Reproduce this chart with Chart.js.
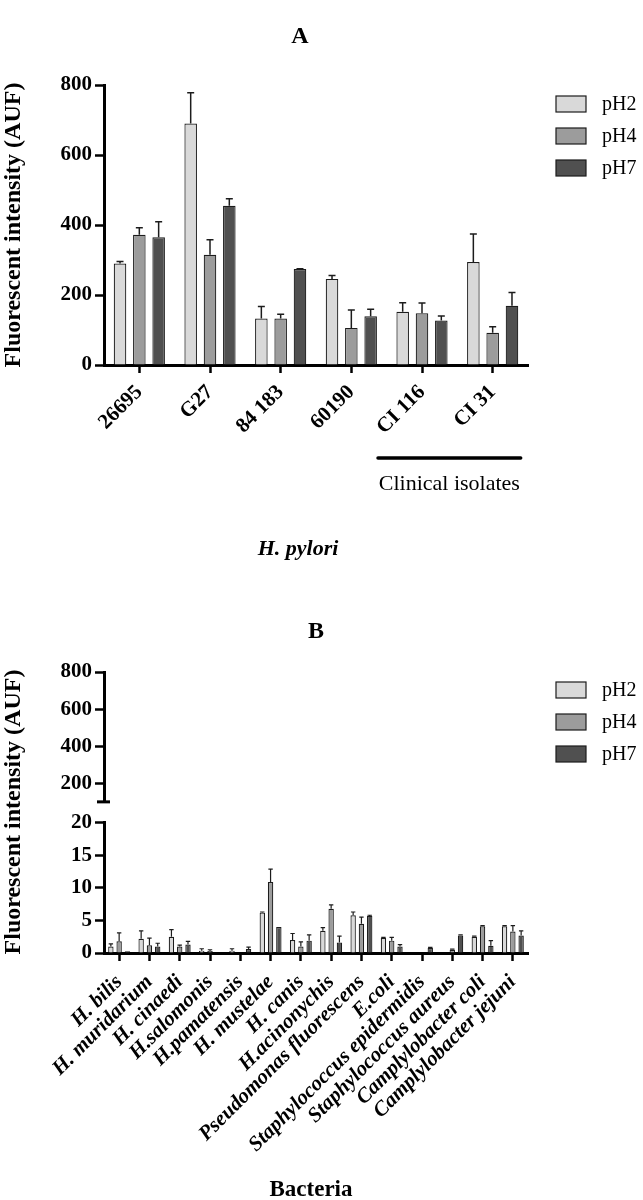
<!DOCTYPE html>
<html>
<head>
<style>
  body { margin: 0; background: #ffffff; }
  .panel { position: relative; width: 643px; height: 600px; }
</style>
<script src="https://cdn.jsdelivr.net/npm/chart.js@4.4.0/dist/chart.umd.min.js"></script>
</head>
<body>
<div class="panel"><canvas id="chartA" width="643" height="600"></canvas></div>
<div class="panel"><canvas id="chartB" width="643" height="600"></canvas></div>

<script type="text/javascript">

    // ---- panel A : H. pylori strains ----
    var strainsA = ['26695', 'G27', '84 183', '60190', 'CI 116', 'CI 31'];
    var pH2A = [290, 690, 133, 246, 152, 294];
    var pH4A = [372, 315, 133, 106, 148, 92];
    var pH7A = [365, 455, 274, 139, 127, 169];
    var err2A = [6, 88, 34, 10, 26, 80];
    var err4A = [20, 43, 12, 51, 29, 17];
    var err7A = [44, 20, 1, 20, 13, 38];
    var ticksA = [0, 200, 400, 600, 800];

    // ---- panel B : other bacteria ----
    var bacteriaB = ['H. bilis', 'H. muridarium', 'H. cinaedi', 'H.salomonis', 'H.pamatensis',
                     'H. mustelae', 'H. canis', 'H.acinonychis', 'Pseudomonas fluorescens', 'E.coli',
                     'Staphylococcus epidermidis', 'Staphylococcus aureus', 'Camplylobacter coli',
                     'Camplylobacter jejuni'];
    var pH2B = [1.0, 2.2, 2.5, 0.35, 0.35, 6.2, 2.0, 3.4, 5.8, 2.3, 0.05, 0, 2.5, 4.1];
    var pH4B = [1.8, 1.2, 1.0, 0.3, 0.05, 10.9, 1.0, 6.8, 4.5, 1.9, 0, 0.5, 4.1, 3.3];
    var pH7B = [0.25, 1.0, 1.3, 0.1, 0.6, 4.0, 1.9, 1.6, 5.7, 1.0, 0.75, 2.7, 1.1, 2.7];
    var err2B = [0.4, 1.2, 1.1, 0.3, 0.3, 0.1, 1.0, 0.5, 0.5, 0.1, 0, 0, 0.1, 0.1];
    var err4B = [1.3, 1.1, 0.2, 0.2, 0, 2.0, 0.7, 0.6, 1.0, 0.5, 0, 0.1, 0.1, 0.9];
    var err7B = [0, 0.5, 0.5, 0, 0.3, 0, 0.9, 1.0, 0.1, 0.3, 0.1, 0.1, 0.8, 0.7];
    var ticksBTop = [200, 400, 600, 800];
    var ticksBLow = [0, 5, 10, 15, 20];

    var phLabels = ['pH2', 'pH4', 'pH7'];
    var phColors = ['#d9d9d9', '#9c9c9c', '#505050'];
    var serif = "'Liberation Serif', 'Times New Roman', serif";

    function makeSets(vals, errs) {
        return vals.map(function (v, i) {
            return {
                label: phLabels[i],
                data: v,
                errors: errs[i],
                backgroundColor: phColors[i],
                borderColor: '#1c1c1c',
                borderWidth: 1.2,
                categoryPercentage: 0.82,
                barPercentage: 0.65,
                yAxisID: 'y'
            };
        });
    }

    // error bars, upper half only
    var errorBars = {
        id: 'errorBars',
        afterDatasetsDraw: function (chart, args, opts) {
            var ctx = chart.ctx;
            ctx.save();
            ctx.strokeStyle = '#1c1c1c';
            ctx.lineWidth = opts.width;
            chart.data.datasets.forEach(function (ds, di) {
                var meta = chart.getDatasetMeta(di);
                var ys = chart.scales[meta.yAxisID];
                meta.data.forEach(function (bar, i) {
                    var e = ds.errors[i];
                    if (!e) return;
                    var top = ys.getPixelForValue(ds.data[i] + e);
                    ctx.beginPath();
                    ctx.moveTo(bar.x, bar.y);
                    ctx.lineTo(bar.x, top);
                    ctx.moveTo(bar.x - opts.cap, top);
                    ctx.lineTo(bar.x + opts.cap, top);
                    ctx.stroke();
                });
            });
            ctx.restore();
        }
    };

    // titles, legend and other text
    var decor = {
        id: 'decor',
        afterDraw: function (chart, args, o) {
            var ctx = chart.ctx;
            var area = chart.chartArea;
            ctx.save();
            ctx.fillStyle = '#000';
            ctx.textAlign = 'center';
            ctx.textBaseline = 'middle';

            ctx.font = 'bold 24px ' + serif;
            ctx.fillText(o.letter, o.letterX, o.letterY);

            ctx.font = o.xTitleFont + ' ' + serif;
            ctx.fillText(o.xTitle, o.xTitleX, o.xTitleY);

            // y title
            ctx.save();
            ctx.translate(14, o.yTitleY);
            ctx.rotate(-Math.PI / 2);
            ctx.font = 'bold 24px ' + serif;
            ctx.fillText('Fluorescent intensity (AUF)', 0, 0);
            ctx.restore();

            // legend
            ctx.textAlign = 'left';
            ctx.font = '20px ' + serif;
            chart.data.datasets.forEach(function (ds, i) {
                var y = o.legendTop + i * 32;
                ctx.fillStyle = ds.backgroundColor;
                ctx.fillRect(556, y, 30, 16);
                ctx.strokeStyle = '#1c1c1c';
                ctx.lineWidth = 1.2;
                ctx.strokeRect(556, y, 30, 16);
                ctx.fillStyle = '#000';
                ctx.fillText(ds.label, 602, y + 9);
            });

            if (o.clinical) {
                var xs = chart.scales.x;
                var x0 = xs.getPixelForValue(4) - 44;
                var x1 = xs.getPixelForValue(5) + 28;
                ctx.strokeStyle = '#000';
                ctx.lineWidth = 3.5;
                ctx.lineCap = 'round';
                ctx.beginPath();
                ctx.moveTo(x0, 458);
                ctx.lineTo(x1, 458);
                ctx.stroke();
                ctx.textAlign = 'center';
                ctx.font = '22px ' + serif;
                ctx.fillText('Clinical isolates', (x0 + x1) / 2, 484);
            }

            if (o.axisBreak) {
                var yt = chart.scales.yTop;
                var yb = yt.getPixelForValue(100);
                ctx.strokeStyle = '#000';
                ctx.lineWidth = 3;
                ctx.beginPath();
                ctx.moveTo(area.left - 7, yb);
                ctx.lineTo(area.left + 6, yb);
                ctx.stroke();
            }
            ctx.restore();
        }
    };

    var tickFont = { family: serif, size: 21, weight: 'bold' };

    function yAxis(min, max, list, extra) {
        var ax = {
            min: min,
            max: max,
            afterBuildTicks: function (s) { s.ticks = list.map(function (v) { return { value: v }; }); },
            grid: { drawOnChartArea: false, drawTicks: true, tickLength: 9, tickWidth: 2.5, tickColor: '#000' },
            border: { color: '#000', width: 3 },
            ticks: { color: '#000', font: tickFont, padding: 3 },
            afterFit: function (s) { s.width = 104; }
        };
        return Object.assign(ax, extra || {});
    }

    function xAxis(labelFont, h, pad) {
        return {
            offset: true,
            grid: { display: true, offset: false, drawOnChartArea: false, drawTicks: true,
                    tickLength: 8, tickWidth: 2.5, tickColor: '#000' },
            border: { color: '#000', width: 3 },
            ticks: { color: '#000', font: labelFont, minRotation: 45, maxRotation: 45, autoSkip: false, padding: pad },
            afterFit: function (s) { s.height = h; }
        };
    }

    Chart.defaults.animation = false;

    new Chart(document.getElementById('chartA'), {
        type: 'bar',
        data: { labels: strainsA, datasets: makeSets([pH2A, pH4A, pH7A], [err2A, err4A, err7A]) },
        options: {
            responsive: false,
            layout: { padding: { top: 85, right: 115, left: 0, bottom: 0 } },
            plugins: {
                legend: { display: false },
                tooltip: { enabled: false },
                errorBars: { width: 1.5, cap: 3.5 },
                decor: {
                    letter: 'A', letterX: 300, letterY: 37,
                    xTitle: 'H. pylori', xTitleFont: 'italic bold 22px', xTitleX: 298, xTitleY: 549,
                    yTitleY: 225, legendTop: 96, clinical: true
                }
            },
            scales: {
                x: xAxis({ family: serif, size: 21, weight: 'bold' }, 235, 7),
                y: yAxis(0, 800, ticksA)
            }
        },
        plugins: [errorBars, decor]
    });

    new Chart(document.getElementById('chartB'), {
        type: 'bar',
        data: { labels: bacteriaB, datasets: makeSets([pH2B, pH4B, pH7B], [err2B, err4B, err7B]) },
        options: {
            responsive: false,
            layout: { padding: { top: 72, right: 115, left: 0, bottom: 0 } },
            plugins: {
                legend: { display: false },
                tooltip: { enabled: false },
                errorBars: { width: 1.2, cap: 2.2 },
                decor: {
                    letter: 'B', letterX: 316, letterY: 32,
                    xTitle: 'Bacteria', xTitleFont: 'bold 23px', xTitleX: 311, xTitleY: 590,
                    yTitleY: 212, legendTop: 82, axisBreak: true
                }
            },
            scales: {
                x: xAxis({ family: serif, size: 21, weight: 'bold', style: 'italic' }, 247, 9),
                y: yAxis(0, 20, ticksBLow, { stack: 'left', stackWeight: 130.3 }),
                yGap: {
                    axis: 'y', position: 'left', stack: 'left', stackWeight: 21,
                    grid: { display: false }, border: { display: false }, ticks: { display: false },
                    afterFit: function (s) { s.width = 104; }
                },
                yTop: yAxis(100, 800, ticksBTop, { axis: 'y', position: 'left', stack: 'left', stackWeight: 130 })
            }
        },
        plugins: [errorBars, decor]
    });

</script>
</body>
</html>
